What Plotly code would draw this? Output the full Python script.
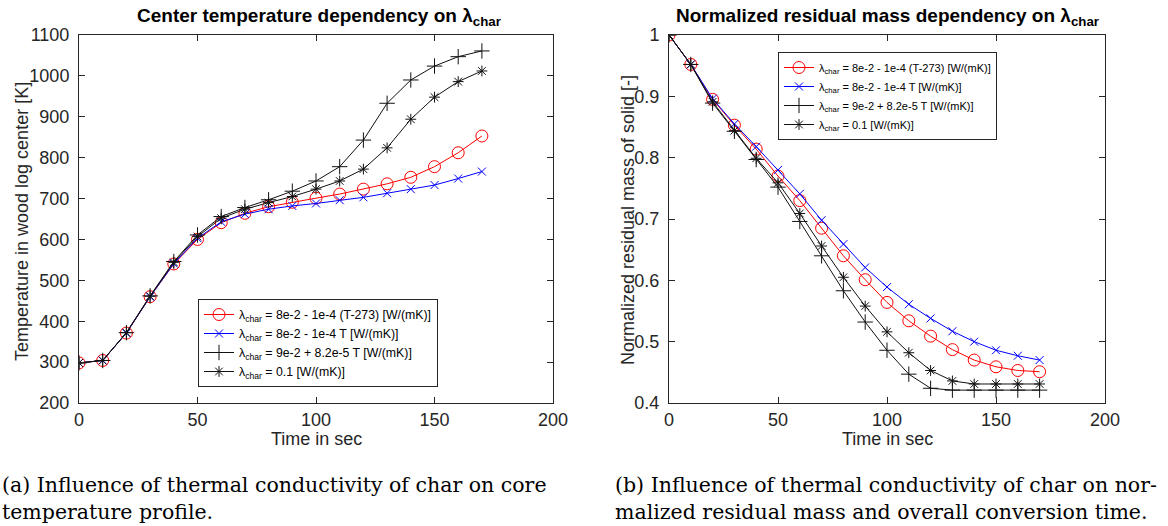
import plotly.graph_objects as go

t = [0, 10, 20, 30, 40, 50, 60, 70, 80, 90, 100, 110, 120, 130, 140, 150, 160, 170]

# Center temperature [K]
temp_red = [298, 304, 371, 460, 540, 600, 641, 664, 680, 691, 701, 711, 723, 736, 752, 778, 812, 853]
temp_blue = [298, 304, 371, 460, 541, 603, 643, 662, 674, 682, 688, 696, 703, 713, 723, 733, 749, 766]
temp_plus = [298, 304, 372, 462, 546, 611, 656, 678, 697, 718, 743, 778, 843, 933, 990, 1024, 1047, 1061]
temp_ast = [298, 304, 372, 461, 544, 607, 652, 674, 690, 705, 723, 743, 772, 824, 894, 948, 986, 1012]

# Normalized residual mass [-]
mass_red = [1.0, 0.952, 0.895, 0.853, 0.814, 0.770, 0.730, 0.685, 0.640, 0.601, 0.564, 0.534, 0.509, 0.487, 0.470, 0.459, 0.453, 0.451]
mass_blue = [1.0, 0.952, 0.896, 0.855, 0.818, 0.780, 0.741, 0.698, 0.659, 0.621, 0.589, 0.561, 0.538, 0.517, 0.500, 0.486, 0.477, 0.470]
mass_plus = [1.0, 0.952, 0.889, 0.843, 0.797, 0.752, 0.696, 0.640, 0.583, 0.532, 0.486, 0.447, 0.424, 0.421, 0.421, 0.421, 0.421, 0.421]
mass_ast = [1.0, 0.952, 0.891, 0.844, 0.799, 0.759, 0.709, 0.656, 0.605, 0.558, 0.516, 0.482, 0.453, 0.436, 0.431, 0.431, 0.431, 0.431]

names = [
    "λ<sub>char</sub> = 8e-2 - 1e-4 (T-273) [W/(mK)]",
    "λ<sub>char</sub> = 8e-2 - 1e-4 T [W/(mK)]",
    "λ<sub>char</sub> = 9e-2 + 8.2e-5 T [W/(mK)]",
    "λ<sub>char</sub> = 0.1 [W/(mK)]",
]
colors = ["#ff0000", "#0000ff", "#111111", "#111111"]
symbols = ["circle-open", "x-thin-open", "cross-thin-open", "asterisk-open"]
sizes = [12, 8, 11, 9]

W, H = 1168, 526
def px_x(p): return p / W
def px_y(p): return 1 - p / H

FONT = "Liberation Sans, Arial, sans-serif"
SERIF = "DejaVu Serif, Liberation Serif, serif"

fig = go.Figure()

left_series = [temp_red, temp_blue, temp_plus, temp_ast]
right_series = [mass_red, mass_blue, mass_plus, mass_ast]

for i in range(4):
    fig.add_trace(go.Scatter(
        x=t, y=left_series[i], mode="lines+markers", name=names[i],
        line=dict(color=colors[i], width=1),
        marker=dict(symbol=symbols[i], size=sizes[i], color=colors[i], line=dict(width=1, color=colors[i])),
        xaxis="x", yaxis="y", legend="legend",
    ))
for i in range(4):
    fig.add_trace(go.Scatter(
        x=t, y=right_series[i], mode="lines+markers", name=names[i],
        line=dict(color=colors[i], width=1),
        marker=dict(symbol=symbols[i], size=sizes[i], color=colors[i], line=dict(width=1, color=colors[i])),
        xaxis="x2", yaxis="y2", legend="legend2",
    ))

axis_common = dict(
    showgrid=False, zeroline=False, showline=True, linecolor="#262626", linewidth=1,
    mirror="ticks", ticks="inside", ticklen=6, tickcolor="#262626", automargin=False,
    tickfont=dict(family=FONT, size=18, color="#262626"),
)
xcommon = dict(range=[0, 200], tickvals=[0, 50, 100, 150, 200], **axis_common)
ycommon = dict(ticklabelstandoff=5, **axis_common)

fig.update_layout(
    width=W, height=H, autosize=False,
    margin=dict(l=0, r=0, t=0, b=0, pad=0),
    paper_bgcolor="white", plot_bgcolor="white",
    showlegend=True,
    xaxis=dict(domain=[px_x(79), px_x(553)], anchor="y", **xcommon),
    yaxis=dict(domain=[px_y(403), px_y(35)], range=[200, 1100], tickvals=list(range(200, 1101, 100)), anchor="x", **ycommon),
    xaxis2=dict(domain=[px_x(669), px_x(1105)], anchor="y2", **xcommon),
    yaxis2=dict(domain=[px_y(403), px_y(35)], range=[0.4, 1.0], tickvals=[0.4, 0.5, 0.6, 0.7, 0.8, 0.9, 1.0],
                ticktext=["0.4", "0.5", "0.6", "0.7", "0.8", "0.9", "1"], anchor="x2", **ycommon),
    legend=dict(x=px_x(198), y=px_y(299), xanchor="left", yanchor="top",
                bgcolor="white", bordercolor="#262626", borderwidth=1,
                font=dict(family=FONT, size=12.3, color="black"), tracegroupgap=0, itemwidth=30),
    legend2=dict(x=px_x(778), y=px_y(52), xanchor="left", yanchor="top",
                 bgcolor="white", bordercolor="#262626", borderwidth=1,
                 font=dict(family=FONT, size=11, color="black"), tracegroupgap=0, itemwidth=30),
)

def A(text, x, y, size, family=FONT, color="#262626", angle=0, xanchor="center", yanchor="middle", align="center"):
    return dict(text=text, x=px_x(x), y=px_y(y), xref="paper", yref="paper", showarrow=False,
                xanchor=xanchor, yanchor=yanchor, align=align, textangle=angle,
                font=dict(family=family, size=size, color=color))

ann = [
    A("<b>Center temperature dependency on λ<sub>char</sub></b>", 319, 17, 19, color="black"),
    A("<b>Normalized residual mass dependency on λ<sub>char</sub></b>", 887, 17, 19, color="black"),
    A("Time in sec", 316, 439, 18),
    A("Time in sec", 887, 439, 18),
    A("Temperature in wood log center [K]", 22, 222, 18, angle=-90),
    A("Normalized residual mass of solid [-]", 628, 220, 18, angle=-90),
    A("(a) Influence of thermal conductivity of char on core<br>temperature profile.", 0, 471, 20.5,
      family=SERIF, color="black", xanchor="left", yanchor="top", align="left"),
    A("(b) Influence of thermal conductivity of char on nor-<br>malized residual mass and overall conversion time.", 613, 471, 20.5,
      family=SERIF, color="black", xanchor="left", yanchor="top", align="left"),
]
fig.update_layout(annotations=ann)

fig.write_html("out.html")
